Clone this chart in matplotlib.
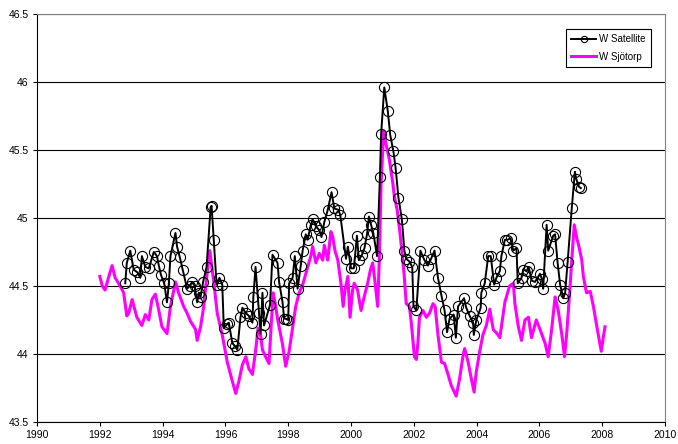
import matplotlib
matplotlib.use("Agg")
import matplotlib.pyplot as plt

plt.rcParams['font.family'] = ['Liberation Sans', 'DejaVu Sans']

# W Satellite: (decimal year, level)
sat_year = [
    1992.81, 1992.86, 1992.97, 1993.08, 1993.20, 1993.29, 1993.34, 1993.45, 1993.56, 1993.72,
    1993.82, 1993.88, 1993.95, 1994.05, 1994.14, 1994.20, 1994.25, 1994.41, 1994.46, 1994.55,
    1994.64, 1994.78, 1994.86, 1994.94, 1995.02, 1995.10, 1995.16, 1995.21, 1995.29, 1995.40,
    1995.53, 1995.56, 1995.63, 1995.72, 1995.81, 1995.90, 1995.95, 1996.05, 1996.11, 1996.22,
    1996.30, 1996.38, 1996.48, 1996.54, 1996.65, 1996.75, 1996.86, 1996.89, 1996.96, 1997.07,
    1997.12, 1997.18, 1997.23, 1997.42, 1997.50, 1997.66, 1997.71, 1997.82, 1997.87, 1997.92,
    1998.00, 1998.03, 1998.14, 1998.21, 1998.30, 1998.40, 1998.46, 1998.56, 1998.62, 1998.72,
    1998.78, 1998.88, 1998.99, 1999.06, 1999.15, 1999.26, 1999.38, 1999.47, 1999.60, 1999.66,
    1999.84, 1999.90, 2000.00, 2000.09, 2000.19, 2000.25, 2000.35, 2000.43, 2000.51, 2000.57,
    2000.64, 2000.71, 2000.83, 2000.92, 2000.96, 2001.06, 2001.17, 2001.25, 2001.35, 2001.42,
    2001.51, 2001.62, 2001.70, 2001.76, 2001.86, 2001.95, 2001.99, 2002.08, 2002.21, 2002.34,
    2002.45, 2002.55, 2002.66, 2002.77, 2002.88, 2002.98, 2003.06, 2003.14, 2003.27, 2003.34,
    2003.41, 2003.60, 2003.67, 2003.78, 2003.89, 2003.91, 2003.99, 2004.13, 2004.15, 2004.26,
    2004.37, 2004.45, 2004.56, 2004.63, 2004.74, 2004.79, 2004.90, 2004.98, 2005.08, 2005.17,
    2005.27, 2005.31, 2005.43, 2005.49, 2005.59, 2005.66, 2005.75, 2005.86, 2006.02, 2006.08,
    2006.12, 2006.23, 2006.28, 2006.44, 2006.50, 2006.58, 2006.66, 2006.76, 2006.82, 2006.90,
    2007.03, 2007.13, 2007.17, 2007.26, 2007.32,
]
sat_level = [
    44.52, 44.67, 44.76, 44.62, 44.60, 44.56, 44.72, 44.64, 44.63, 44.75,
    44.72, 44.65, 44.58, 44.52, 44.38, 44.52, 44.72, 44.89, 44.79, 44.71,
    44.62, 44.48, 44.50, 44.53, 44.50, 44.38, 44.45, 44.42, 44.53, 44.64,
    45.08, 45.09, 44.84, 44.51, 44.56, 44.51, 44.19, 44.22, 44.23, 44.08,
    44.06, 44.03, 44.27, 44.34, 44.30, 44.28, 44.23, 44.42, 44.64, 44.30,
    44.15, 44.45, 44.21, 44.36, 44.73, 44.67, 44.53, 44.38, 44.26, 44.26,
    44.25, 44.52, 44.56, 44.72, 44.48, 44.65, 44.76, 44.88, 44.84, 44.95,
    44.99, 44.94, 44.91, 44.86, 44.97, 45.06, 45.19, 45.07, 45.06, 45.02,
    44.70, 44.79, 44.63, 44.63, 44.87, 44.69, 44.73, 44.78, 44.88, 45.01,
    44.95, 44.89, 44.72, 45.30, 45.62, 45.96, 45.79, 45.61, 45.49, 45.37,
    45.15, 44.99, 44.76, 44.70, 44.68, 44.64, 44.35, 44.32, 44.76, 44.69,
    44.65, 44.70, 44.76, 44.56, 44.43, 44.32, 44.16, 44.26, 44.29, 44.12,
    44.35, 44.41, 44.34, 44.28, 44.23, 44.14, 44.25, 44.34, 44.45, 44.52,
    44.72, 44.72, 44.51, 44.56, 44.61, 44.72, 44.84, 44.84, 44.85, 44.76,
    44.78, 44.52, 44.56, 44.62, 44.61, 44.64, 44.54, 44.53, 44.59, 44.55,
    44.48, 44.95, 44.76, 44.87, 44.88, 44.67, 44.51, 44.41, 44.45, 44.68,
    45.07, 45.34, 45.29, 45.23, 45.22,
]

# W Sjötorp gauge: (decimal year, level)
sjo_year = [
    1992.00, 1992.08, 1992.17, 1992.30, 1992.39, 1992.49, 1992.65, 1992.76, 1992.86, 1992.92,
    1993.03, 1993.18, 1993.34, 1993.45, 1993.56, 1993.66, 1993.77, 1993.88, 1993.98, 1994.14,
    1994.25, 1994.41, 1994.51, 1994.67, 1994.78, 1994.89, 1995.05, 1995.10, 1995.21, 1995.31,
    1995.42, 1995.50, 1995.63, 1995.74, 1995.90, 1996.06, 1996.22, 1996.33, 1996.43, 1996.54,
    1996.65, 1996.75, 1996.86, 1996.96, 1997.04, 1997.12, 1997.18, 1997.28, 1997.39, 1997.44,
    1997.52, 1997.58, 1997.66, 1997.82, 1997.92, 1998.03, 1998.14, 1998.24, 1998.35, 1998.45,
    1998.56, 1998.72, 1998.78, 1998.88, 1998.99, 1999.10, 1999.15, 1999.26, 1999.36, 1999.42,
    1999.49, 1999.58, 1999.68, 1999.75, 1999.81, 1999.90, 1999.97, 2000.05, 2000.10, 2000.21,
    2000.32, 2000.42, 2000.53, 2000.62, 2000.69, 2000.77, 2000.85, 2000.90, 2000.96, 2001.04,
    2001.11, 2001.22, 2001.33, 2001.38, 2001.47, 2001.55, 2001.62, 2001.69, 2001.76, 2001.86,
    2001.92, 2002.02, 2002.08, 2002.13, 2002.18, 2002.29, 2002.40, 2002.50, 2002.61, 2002.68,
    2002.77, 2002.88, 2002.98, 2003.09, 2003.19, 2003.35, 2003.46, 2003.57, 2003.62, 2003.73,
    2003.83, 2003.92, 2003.99, 2004.10, 2004.20, 2004.31, 2004.42, 2004.53, 2004.65, 2004.74,
    2004.90, 2005.05, 2005.17, 2005.22, 2005.33, 2005.43, 2005.54, 2005.65, 2005.75, 2005.90,
    2006.02, 2006.18, 2006.28, 2006.39, 2006.50, 2006.60, 2006.71, 2006.80, 2006.87, 2006.97,
    2007.03, 2007.11, 2007.19, 2007.24, 2007.35, 2007.40, 2007.50, 2007.62, 2007.72, 2007.83,
    2007.97, 2008.04, 2008.09,
]
sjo_level = [
    44.57, 44.50, 44.47, 44.58, 44.65, 44.56, 44.50, 44.45, 44.28, 44.30,
    44.40, 44.27, 44.21, 44.29, 44.25, 44.40, 44.44, 44.32, 44.20, 44.15,
    44.35, 44.53, 44.45, 44.35, 44.30, 44.24, 44.18, 44.10, 44.20, 44.35,
    44.60, 44.76, 44.53, 44.30, 44.14, 43.94, 43.80, 43.71, 43.80, 43.92,
    43.98, 43.89, 43.85, 44.02, 44.19, 44.14, 44.03, 43.98, 43.93, 44.14,
    44.45, 44.38, 44.26, 44.07, 43.91, 44.02, 44.19, 44.35, 44.45, 44.50,
    44.59, 44.72, 44.79, 44.67, 44.74, 44.69, 44.80, 44.69, 44.90, 44.86,
    44.76, 44.69, 44.52, 44.35, 44.47, 44.57, 44.27, 44.47, 44.52, 44.47,
    44.32, 44.42, 44.52, 44.62, 44.67, 44.52, 44.35, 44.69, 45.26, 45.64,
    45.55, 45.43, 45.26, 45.16, 45.06, 44.91, 44.76, 44.59, 44.37, 44.35,
    44.23, 43.98, 43.96, 44.08, 44.27, 44.32, 44.27, 44.30, 44.37, 44.35,
    44.14, 43.94, 43.93, 43.85, 43.77, 43.69, 43.82, 43.99, 44.04, 43.94,
    43.82, 43.72, 43.87, 44.02, 44.14, 44.21, 44.33, 44.18, 44.15, 44.12,
    44.38, 44.50, 44.52, 44.37, 44.20, 44.10, 44.25, 44.27, 44.12, 44.25,
    44.18, 44.08, 43.98, 44.18, 44.42, 44.32, 44.15, 43.98, 44.15, 44.47,
    44.69, 44.95, 44.85, 44.81, 44.69, 44.57, 44.45, 44.46, 44.35, 44.20,
    44.02, 44.13, 44.20,
]

x_ticks = [1990, 1992, 1994, 1996, 1998, 2000, 2002, 2004, 2006, 2008, 2010]
y_ticks = [43.5, 44, 44.5, 45, 45.5, 46, 46.5]
y_labels = ['43.5', '44', '44.5', '45', '45.5', '46', '46.5']

fig = plt.figure(figsize=(6.78, 4.44), dpi=100)
ax = fig.add_axes([37 / 678, 22 / 444, 628 / 678, 408 / 444])

sjo_line, = ax.plot(sjo_year, sjo_level, color='#ff00ff', lw=2.2, label='W Sjötorp', zorder=2)
sat_line, = ax.plot(sat_year, sat_level, color='black', lw=1.4, marker='o', markersize=7.3,
                    markerfacecolor='none', markeredgecolor='black', markeredgewidth=0.8,
                    label='W Satellite', zorder=3)

ax.set_xlim(1990, 2010)
ax.set_ylim(43.5, 46.5)
ax.set_xticks(x_ticks)
ax.set_xticklabels([str(t) for t in x_ticks])
ax.set_yticks(y_ticks)
ax.set_yticklabels(y_labels)
ax.tick_params(direction='out', length=3, width=0.8, labelsize=7.5, colors='black', pad=3)

ax.yaxis.grid(True, color='black', lw=0.8)
ax.set_axisbelow(True)
ax.spines['left'].set_color('black')
ax.spines['bottom'].set_color('black')
ax.spines['top'].set_color('#808080')
ax.spines['right'].set_color('#808080')

leg = ax.legend(handles=[sat_line, sjo_line], loc='upper right',
                bbox_to_anchor=(0.985, 0.975), fontsize=7,
                frameon=True, fancybox=False, edgecolor='black', framealpha=1,
                handlelength=2.6, borderpad=0.5, labelspacing=0.8, handletextpad=0.3)
leg.get_frame().set_linewidth(0.8)
for h in leg.legend_handles:
    if h.get_marker() == 'o':
        h.set_markersize(4.5)

fig.savefig('out.png', dpi=100)
